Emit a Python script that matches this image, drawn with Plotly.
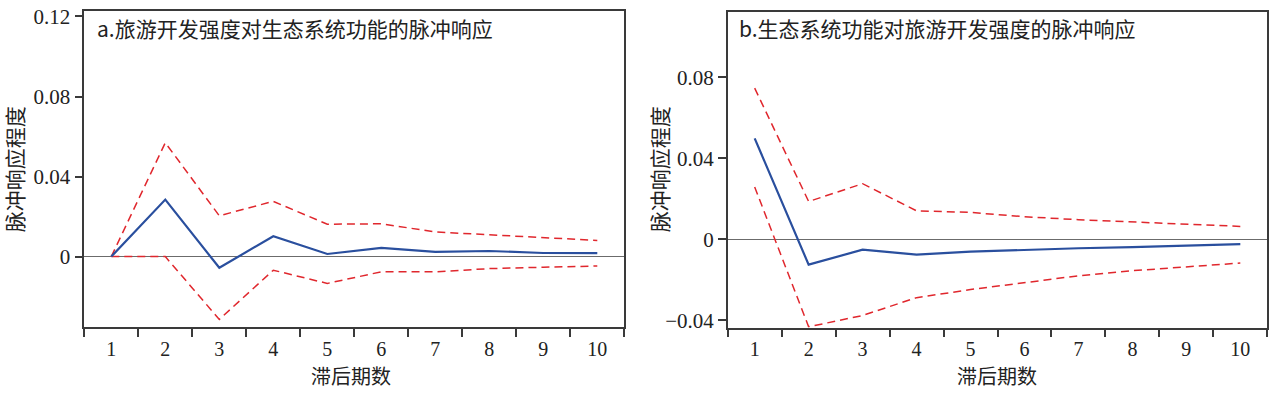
import plotly.graph_objects as go

periods = [1, 2, 3, 4, 5, 6, 7, 8, 9, 10]
tick_labels = ["1", "2", "3", "4", "5", "6", "7", "8", "9", "10"]

# Panel a: tourism development intensity -> ecosystem function
a_resp = [0.0, 0.0285, -0.0056, 0.0102, 0.0013, 0.0044, 0.0024, 0.0028, 0.0018, 0.0017]
a_upper = [0.0, 0.0569, 0.0204, 0.0276, 0.0162, 0.0164, 0.0123, 0.0110, 0.0094, 0.0081]
a_lower = [0.0, 0.0, -0.0314, -0.0068, -0.0134, -0.0076, -0.0076, -0.0060, -0.0053, -0.0047]

# Panel b: ecosystem function -> tourism development intensity
b_resp = [0.0499, -0.0125, -0.0051, -0.0075, -0.0061, -0.0052, -0.0044, -0.0038, -0.0031, -0.0024]
b_upper = [0.0747, 0.0187, 0.0275, 0.0141, 0.0133, 0.0112, 0.0097, 0.0085, 0.0074, 0.0064]
b_lower = [0.0259, -0.0432, -0.0376, -0.0288, -0.0248, -0.0213, -0.0180, -0.0155, -0.0135, -0.0117]

title_a = "a.旅游开发强度对生态系统功能的脉冲响应"
title_b = "b.生态系统功能对旅游开发强度的脉冲响应"
x_title = "滞后期数"
y_title = "脉冲响应程度"

NUM_FONT = "'Liberation Serif', 'Times New Roman', 'DejaVu Serif', serif"
CJK_FONT = "'Noto Sans CJK SC', sans-serif"
BLUE = "#2a4f9e"
RED = "#e0272d"
FRAME = "#3a3a3a"

W, H = 1269, 396
fig = go.Figure()

def add_panel(xa, ya, resp, up, lo):
    for vals, color, dash, width in [(up, RED, "8px,5px", 1.5), (lo, RED, "8px,5px", 1.5), (resp, BLUE, "solid", 2.2)]:
        fig.add_trace(go.Scatter(x=periods, y=vals, mode="lines", xaxis=xa, yaxis=ya,
                                 line=dict(color=color, width=width, dash=dash), showlegend=False,
                                 hoverinfo="skip"))

add_panel("x", "y", a_resp, a_upper, a_lower)
add_panel("x2", "y2", b_resp, b_upper, b_lower)

def xaxis(domain, anchor):
    return dict(domain=domain, anchor=anchor, range=[0.5, 10.5], tickvals=periods, ticktext=tick_labels,
                ticks="", showgrid=False, zeroline=False, showline=True, linecolor=FRAME, linewidth=1.5,
                mirror=True, tickfont=dict(family=NUM_FONT, size=20, color="#222"),
                ticklabeloverflow="allow", ticklabelstandoff=3,
                minor=dict(tickvals=[p - 0.5 for p in periods] + [10.5], ticks="outside", ticklen=8,
                           tickcolor=FRAME, tickwidth=1.5, showgrid=False))

def yaxis(domain, anchor, rng, tv, tt):
    return dict(domain=domain, anchor=anchor, range=rng, tickvals=tv, ticktext=tt, ticks="outside",
                ticklen=8, tickcolor=FRAME, tickwidth=1.5, showgrid=False, zeroline=True,
                zerolinecolor="#6b6b6b", zerolinewidth=1.2, showline=True, linecolor=FRAME, linewidth=1.5,
                mirror=True, tickfont=dict(family=NUM_FONT, size=21, color="#222"),
                ticklabeloverflow="allow")

fig.update_layout(
    width=W, height=H, margin=dict(l=0, r=0, t=0, b=0),
    paper_bgcolor="white", plot_bgcolor="white",
    xaxis=xaxis([84.3 / W, 624.3 / W], "y"),
    yaxis=yaxis([1 - 330 / H, 1 - 5 / H], "x", [-0.0351, 0.1228], [0, 0.04, 0.08, 0.12], ["0", "0.04", "0.08", "0.12"]),
    xaxis2=xaxis([727.7 / W, 1267.3 / W], "y2"),
    yaxis2=yaxis([1 - 330.7 / H, 1 - 6 / H], "x2", [-0.04355, 0.1124], [-0.04, 0, 0.04, 0.08], ["−0.04", "0", "0.04", "0.08"]),
)

ann_font = dict(family=CJK_FONT, size=21, color="#222")
for txt, x in [(title_a, 95), (title_b, 737)]:
    fig.add_annotation(text=txt, xref="paper", yref="paper", x=x / W, y=1 - 23 / H,
                       xanchor="left", yanchor="middle", showarrow=False, font=ann_font)
for x in [351, 997]:
    fig.add_annotation(text=x_title, xref="paper", yref="paper", x=x / W, y=0,
                       xanchor="center", yanchor="bottom", showarrow=False,
                       font=dict(family=CJK_FONT, size=20, color="#222"), borderpad=0)
for x in [14, 659]:
    fig.add_annotation(text=y_title, xref="paper", yref="paper", x=x / W, y=1 - 168 / H,
                       xanchor="center", yanchor="middle", showarrow=False, textangle=-90, font=ann_font)

fig.write_html("out.html", config={"displayModeBar": False},
               post_script="document.body.style.margin='0';document.body.style.padding='0';")
